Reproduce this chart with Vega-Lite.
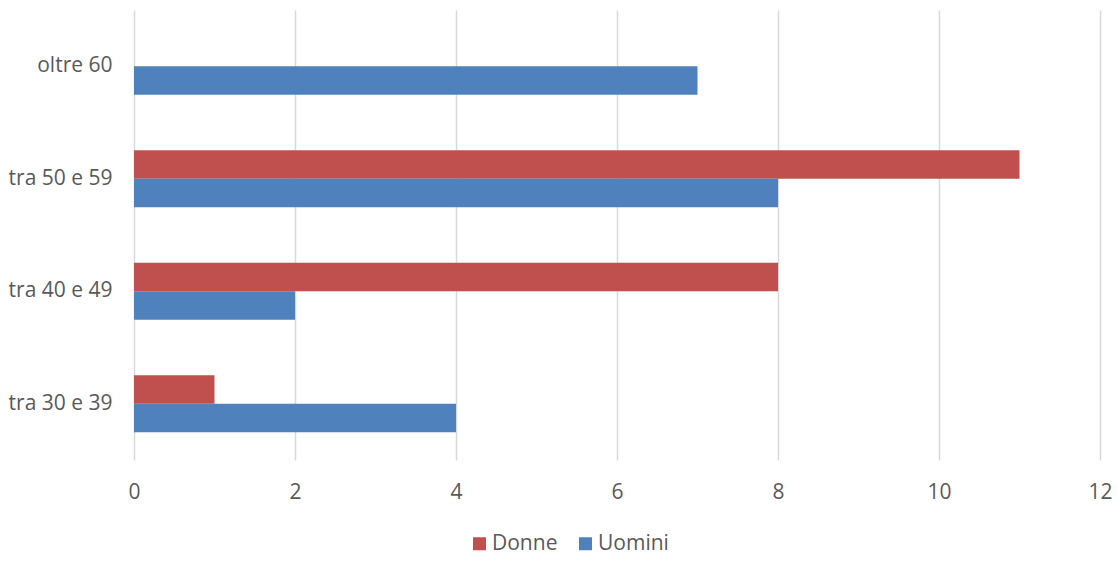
{
  "$schema": "https://vega.github.io/schema/vega-lite/v6.json",
  "width": 966,
  "height": 450,
  "autosize": {"type": "none"},
  "padding": {"left": 134, "top": 10, "right": 18, "bottom": 101},
  "background": "white",
  "config": {
    "view": {"stroke": null},
    "font": "Open Sans"
  },
  "data": {
    "values": [
      {"fascia": "oltre 60", "sesso": "Donne", "valore": 0},
      {"fascia": "oltre 60", "sesso": "Uomini", "valore": 7},
      {"fascia": "tra 50 e 59", "sesso": "Donne", "valore": 11},
      {"fascia": "tra 50 e 59", "sesso": "Uomini", "valore": 8},
      {"fascia": "tra 40 e 49", "sesso": "Donne", "valore": 8},
      {"fascia": "tra 40 e 49", "sesso": "Uomini", "valore": 2},
      {"fascia": "tra 30 e 39", "sesso": "Donne", "valore": 1},
      {"fascia": "tra 30 e 39", "sesso": "Uomini", "valore": 4}
    ]
  },
  "mark": {"type": "bar"},
  "encoding": {
    "y": {
      "field": "fascia",
      "type": "nominal",
      "sort": ["oltre 60", "tra 50 e 59", "tra 40 e 49", "tra 30 e 39"],
      "scale": {"paddingInner": 0.493, "paddingOuter": 0.2465},
      "axis": {
        "title": null,
        "ticks": false,
        "domain": false,
        "labelPadding": 22,
        "grid": false,
        "labelFont": "Open Sans",
        "labelFontSize": 21,
        "labelColor": "#595959"
      }
    },
    "yOffset": {
      "field": "sesso",
      "type": "nominal",
      "sort": ["Donne", "Uomini"],
      "scale": {"paddingInner": 0, "paddingOuter": 0}
    },
    "x": {
      "field": "valore",
      "type": "quantitative",
      "scale": {"domain": [0, 12], "nice": false},
      "axis": {
        "title": null,
        "values": [0, 2, 4, 6, 8, 10, 12],
        "ticks": false,
        "domain": false,
        "grid": true,
        "gridColor": "#D9D9D9",
        "gridWidth": 1.5,
        "labelPadding": 21,
        "labelFlush": false,
        "labelFont": "Open Sans",
        "labelFontSize": 21,
        "labelColor": "#595959"
      }
    },
    "color": {
      "field": "sesso",
      "type": "nominal",
      "sort": ["Donne", "Uomini"],
      "scale": {"domain": ["Donne", "Uomini"], "range": ["#C0504D", "#4F81BD"]},
      "legend": {
        "title": null,
        "orient": "none",
        "direction": "horizontal",
        "legendX": 335,
        "legendY": 523,
        "symbolType": "square",
        "symbolSize": 169,
        "symbolStrokeWidth": 0,
        "columnPadding": 17,
        "labelOffset": 2,
        "labelFont": "Open Sans",
        "labelFontSize": 21,
        "labelColor": "#595959"
      }
    }
  }
}
